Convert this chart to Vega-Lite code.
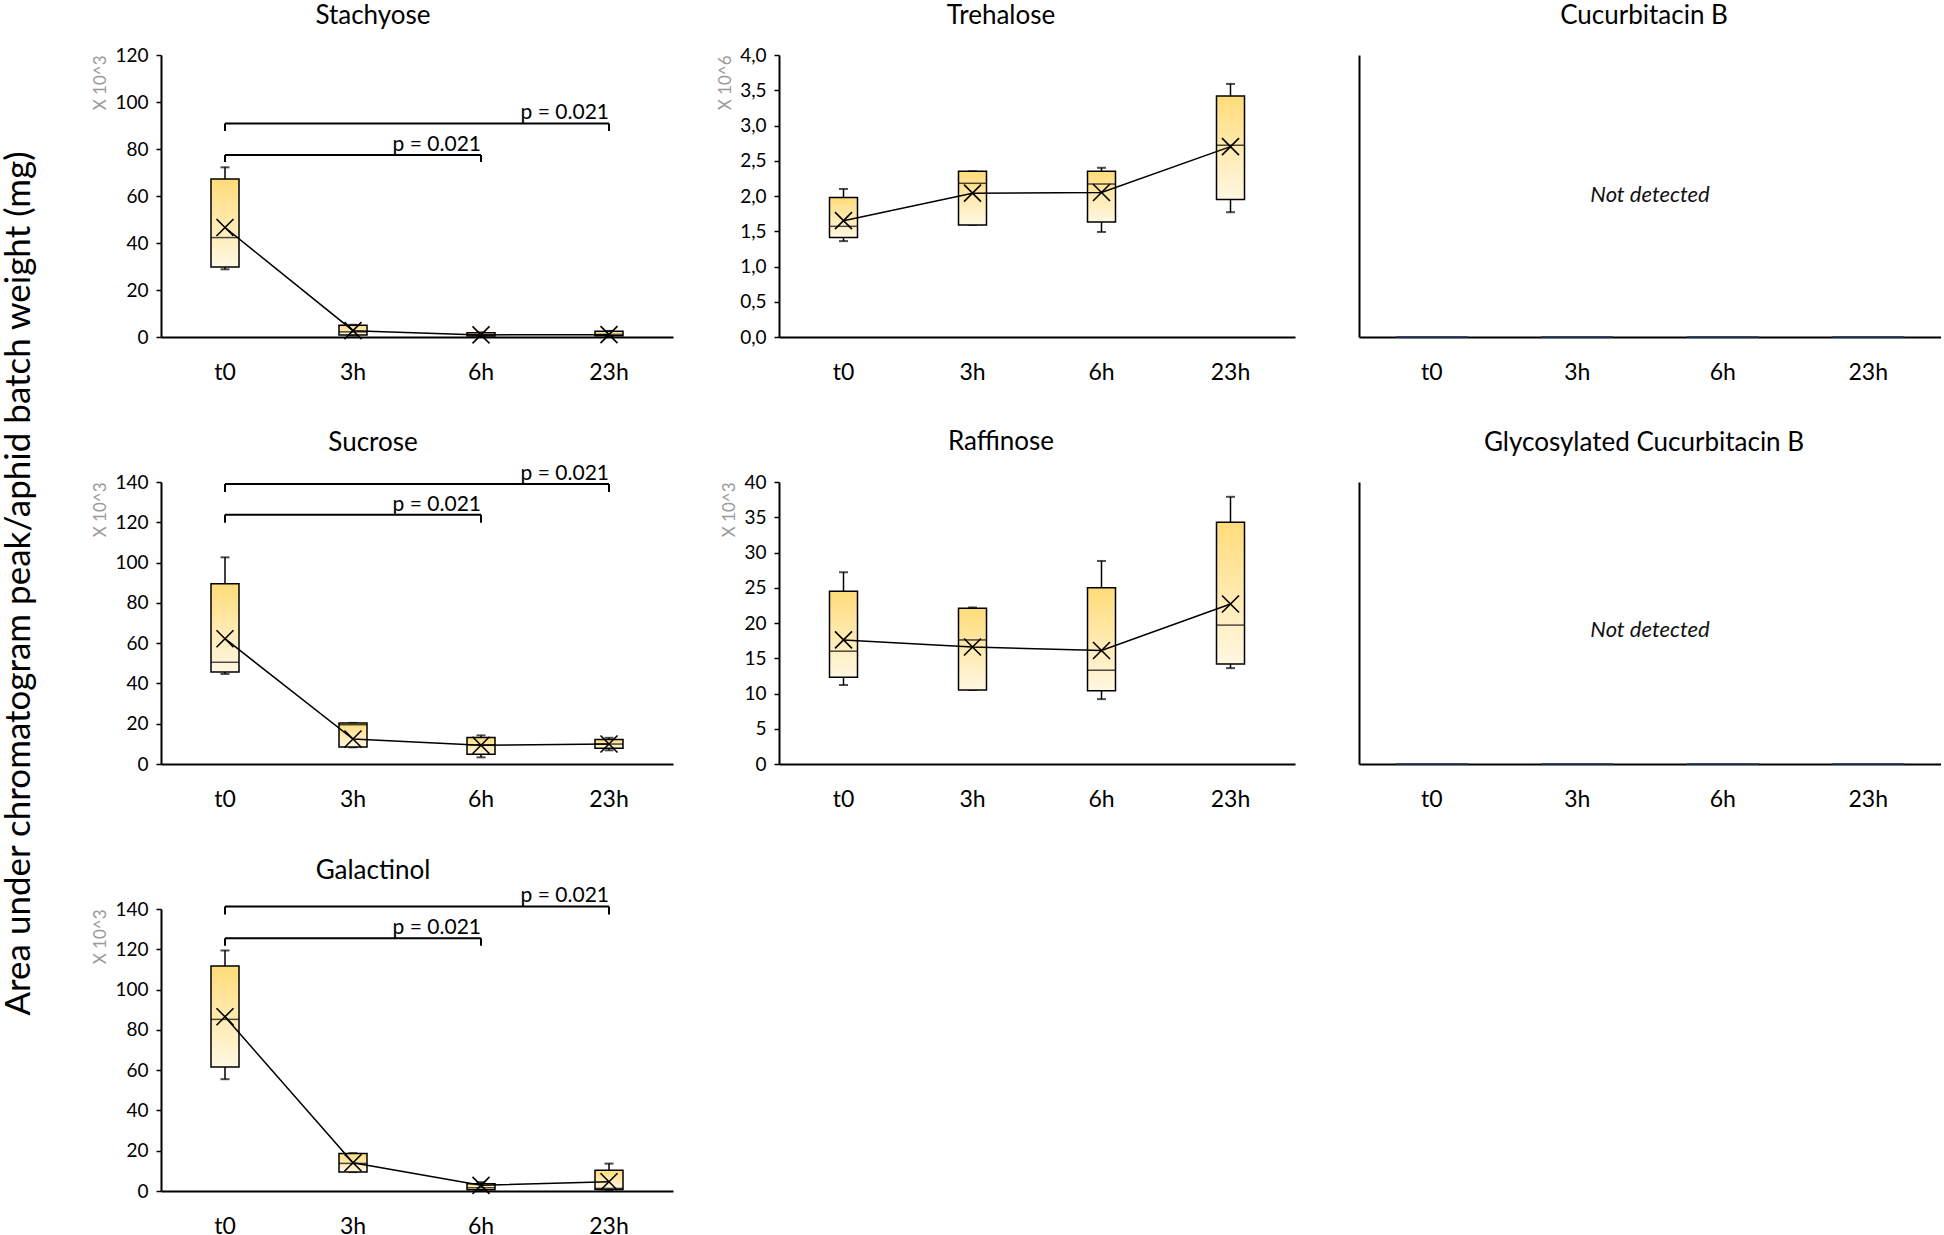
{
"$schema":"https://vega.github.io/schema/vega-lite/v6.json",
"background":"white",
"padding":{"left":1,"top":3,"right":0,"bottom":0},
"title":{"text":"Area under chromatogram peak/aphid batch weight (mg)","orient":"left","anchor":"middle","fontSize":35,"frame":"bounds","offset":38,"baseline":"middle","dx":37},
"columns":5,
"spacing":{"row":145,"column":0},
"bounds":"flush",
"align":"each",
"datasets":{
"box":[
{"panel":"Stachyose","time":"t0","hours":0,"min":28.8,"q1":29.8,"med":42.3,"q3":67.2,"max":72.2,"mean":46.6},
{"panel":"Stachyose","time":"3h","hours":3,"min":0.6,"q1":0.8,"med":2.2,"q3":5.0,"max":5.2,"mean":2.7},
{"panel":"Stachyose","time":"6h","hours":6,"min":0.2,"q1":0.4,"med":0.9,"q3":1.8,"max":2.0,"mean":0.9},
{"panel":"Stachyose","time":"23h","hours":23,"min":0.2,"q1":0.5,"med":1.1,"q3":2.4,"max":2.6,"mean":1.0},
{"panel":"Trehalose","time":"t0","hours":0,"min":1.36,"q1":1.41,"med":1.57,"q3":1.98,"max":2.10,"mean":1.65},
{"panel":"Trehalose","time":"3h","hours":3,"min":1.59,"q1":1.59,"med":2.18,"q3":2.35,"max":2.35,"mean":2.04},
{"panel":"Trehalose","time":"6h","hours":6,"min":1.49,"q1":1.63,"med":2.17,"q3":2.35,"max":2.40,"mean":2.05},
{"panel":"Trehalose","time":"23h","hours":23,"min":1.77,"q1":1.95,"med":2.72,"q3":3.42,"max":3.59,"mean":2.70},
{"panel":"Sucrose","time":"t0","hours":0,"min":44.7,"q1":45.7,"med":50.5,"q3":89.5,"max":102.6,"mean":62.2},
{"panel":"Sucrose","time":"3h","hours":3,"min":8.3,"q1":8.4,"med":19.5,"q3":20.4,"max":20.4,"mean":12.4},
{"panel":"Sucrose","time":"6h","hours":6,"min":3.3,"q1":4.8,"med":9.5,"q3":13.2,"max":14.2,"mean":9.3},
{"panel":"Sucrose","time":"23h","hours":23,"min":6.8,"q1":7.8,"med":9.9,"q3":12.2,"max":13.0,"mean":9.9},
{"panel":"Raffinose","time":"t0","hours":0,"min":11.2,"q1":12.3,"med":16.0,"q3":24.5,"max":27.2,"mean":17.6},
{"panel":"Raffinose","time":"3h","hours":3,"min":10.5,"q1":10.5,"med":17.6,"q3":22.1,"max":22.2,"mean":16.6},
{"panel":"Raffinose","time":"6h","hours":6,"min":9.2,"q1":10.4,"med":13.3,"q3":25.0,"max":28.8,"mean":16.1},
{"panel":"Raffinose","time":"23h","hours":23,"min":13.6,"q1":14.2,"med":19.7,"q3":34.3,"max":37.9,"mean":22.7},
{"panel":"Galactinol","time":"t0","hours":0,"min":55.5,"q1":61.6,"med":85.2,"q3":111.7,"max":119.4,"mean":86.5},
{"panel":"Galactinol","time":"3h","hours":3,"min":9.4,"q1":9.4,"med":13.7,"q3":18.6,"max":18.8,"mean":14.0},
{"panel":"Galactinol","time":"6h","hours":6,"min":0.5,"q1":0.6,"med":1.6,"q3":3.6,"max":4.4,"mean":2.8},
{"panel":"Galactinol","time":"23h","hours":23,"min":0.5,"q1":0.8,"med":1.3,"q3":10.3,"max":13.6,"mean":4.6}
],
"brackets":[
{"panel":"Stachyose","from":"t0","to":"6h","y":77.5,"ybot":74.5,"label":"p = 0.021"},
{"panel":"Stachyose","from":"t0","to":"23h","y":90.9,"ybot":87.7,"label":"p = 0.021"},
{"panel":"Sucrose","from":"t0","to":"6h","y":123.8,"ybot":119.8,"label":"p = 0.021"},
{"panel":"Sucrose","from":"t0","to":"23h","y":139.0,"ybot":135.0,"label":"p = 0.021"},
{"panel":"Galactinol","from":"t0","to":"6h","y":125.5,"ybot":121.7,"label":"p = 0.021"},
{"panel":"Galactinol","from":"t0","to":"23h","y":141.3,"ybot":137.3,"label":"p = 0.021"}
],
"nd":[
{"panel":"Cucurbitacin B","time":"t0","value":0},
{"panel":"Cucurbitacin B","time":"3h","value":0},
{"panel":"Cucurbitacin B","time":"6h","value":0},
{"panel":"Cucurbitacin B","time":"23h","value":0},
{"panel":"Glycosylated Cucurbitacin B","time":"t0","value":0},
{"panel":"Glycosylated Cucurbitacin B","time":"3h","value":0},
{"panel":"Glycosylated Cucurbitacin B","time":"6h","value":0},
{"panel":"Glycosylated Cucurbitacin B","time":"23h","value":0}
],
"notes":[
{"panel":"Cucurbitacin B","time":"3h","y":0.504,"label":"Not detected"},
{"panel":"Glycosylated Cucurbitacin B","time":"3h","y":0.475,"label":"Not detected"}
]
},
"concat":[
{"width":512,"height":282,"title":{"text":"Stachyose","dx":-44,"frame":"group","baseline":"middle","offset":4},
"layer":[
{"data":{"name":"box"},"transform":[{"filter":"datum.panel==='Stachyose'"}],"layer":[
{"mark":{"type":"rule","color":"#000","strokeWidth":1.5},"encoding":{"x":{"field":"time","type":"nominal","scale":{"domain":["t0","3h","6h","23h"],"paddingInner":0,"paddingOuter":0},"title":null},"y":{"field":"min","type":"quantitative","scale":{"domain":[0,120],"nice":false},"title":"X 10^3","axis":{"values":[0,20,40,60,80,100,120]}},"y2":{"field":"max"}}},
{"mark":{"type":"tick","color":"#000","size":9,"thickness":2},"encoding":{"x":{"field":"time","type":"nominal","scale":{"domain":["t0","3h","6h","23h"],"paddingInner":0,"paddingOuter":0},"title":null},"y":{"field":"max","type":"quantitative","scale":{"domain":[0,120],"nice":false},"title":"X 10^3","axis":{"values":[0,20,40,60,80,100,120]}}}},
{"mark":{"type":"tick","color":"#000","size":9,"thickness":2},"encoding":{"x":{"field":"time","type":"nominal","scale":{"domain":["t0","3h","6h","23h"],"paddingInner":0,"paddingOuter":0},"title":null},"y":{"field":"min","type":"quantitative","scale":{"domain":[0,120],"nice":false},"title":"X 10^3","axis":{"values":[0,20,40,60,80,100,120]}}}},
{"mark":{"type":"bar","size":28,"fill":{"gradient":"linear","x1":0,"y1":0,"x2":0,"y2":1,"stops":[{"offset":0,"color":"#FFDC7A"},{"offset":1,"color":"#FFF7E2"}]},"stroke":"#000","strokeWidth":1.5},"encoding":{"x":{"field":"time","type":"nominal","scale":{"domain":["t0","3h","6h","23h"],"paddingInner":0,"paddingOuter":0},"title":null},"y":{"field":"q1","type":"quantitative","scale":{"domain":[0,120],"nice":false},"title":"X 10^3","axis":{"values":[0,20,40,60,80,100,120]}},"y2":{"field":"q3"}}},
{"mark":{"type":"tick","color":"#000","size":28,"thickness":1.5},"encoding":{"x":{"field":"time","type":"nominal","scale":{"domain":["t0","3h","6h","23h"],"paddingInner":0,"paddingOuter":0},"title":null},"y":{"field":"med","type":"quantitative","scale":{"domain":[0,120],"nice":false},"title":"X 10^3","axis":{"values":[0,20,40,60,80,100,120]}}}},
{"mark":{"type":"line","color":"#000","strokeWidth":1.5},"encoding":{"x":{"field":"time","type":"nominal","scale":{"domain":["t0","3h","6h","23h"],"paddingInner":0,"paddingOuter":0},"title":null},"y":{"field":"mean","type":"quantitative","scale":{"domain":[0,120],"nice":false},"title":"X 10^3","axis":{"values":[0,20,40,60,80,100,120]}},"order":{"field":"hours","type":"quantitative"}}},
{"mark":{"type":"point","shape":"M-1,-1L1,1M-1,1L1,-1","size":289,"stroke":"#000","strokeWidth":1.6,"filled":false,"opacity":1},"encoding":{"x":{"field":"time","type":"nominal","scale":{"domain":["t0","3h","6h","23h"],"paddingInner":0,"paddingOuter":0},"title":null},"y":{"field":"mean","type":"quantitative","scale":{"domain":[0,120],"nice":false},"title":"X 10^3","axis":{"values":[0,20,40,60,80,100,120]}}}}
]},
{"data":{"name":"brackets"},"transform":[{"filter":"datum.panel==='Stachyose'"}],"layer":[
{"mark":{"type":"rule","color":"#000","strokeWidth":2},"encoding":{"x":{"field":"from","type":"nominal","scale":{"domain":["t0","3h","6h","23h"],"paddingInner":0,"paddingOuter":0},"title":null},"x2":{"field":"to"},"y":{"field":"y","type":"quantitative","scale":{"domain":[0,120],"nice":false},"title":"X 10^3","axis":{"values":[0,20,40,60,80,100,120]}}}},
{"mark":{"type":"rule","color":"#000","strokeWidth":2},"encoding":{"x":{"field":"from","type":"nominal","scale":{"domain":["t0","3h","6h","23h"],"paddingInner":0,"paddingOuter":0},"title":null},"y":{"field":"y","type":"quantitative","scale":{"domain":[0,120],"nice":false},"title":"X 10^3","axis":{"values":[0,20,40,60,80,100,120]}},"y2":{"field":"ybot"}}},
{"mark":{"type":"rule","color":"#000","strokeWidth":2},"encoding":{"x":{"field":"to","type":"nominal","scale":{"domain":["t0","3h","6h","23h"],"paddingInner":0,"paddingOuter":0},"title":null},"y":{"field":"y","type":"quantitative","scale":{"domain":[0,120],"nice":false},"title":"X 10^3","axis":{"values":[0,20,40,60,80,100,120]}},"y2":{"field":"ybot"}}},
{"mark":{"type":"text","align":"right","baseline":"alphabetic","dy":-4,"fontSize":21,"font":"Lato","color":"#000"},"encoding":{"x":{"field":"to","type":"nominal","scale":{"domain":["t0","3h","6h","23h"],"paddingInner":0,"paddingOuter":0},"title":null},"y":{"field":"y","type":"quantitative","scale":{"domain":[0,120],"nice":false},"title":"X 10^3","axis":{"values":[0,20,40,60,80,100,120]}},"text":{"field":"label"}}}
]}
]},
{"width":106,"height":282,"data":{"values":[]},"mark":"point"},
{"width":516,"height":282,"title":{"text":"Trehalose","dx":-36,"frame":"group","baseline":"middle","offset":4},
"layer":[
{"data":{"name":"box"},"transform":[{"filter":"datum.panel==='Trehalose'"}],"layer":[
{"mark":{"type":"rule","color":"#000","strokeWidth":1.5},"encoding":{"x":{"field":"time","type":"nominal","scale":{"domain":["t0","3h","6h","23h"],"paddingInner":0,"paddingOuter":0},"title":null},"y":{"field":"min","type":"quantitative","scale":{"domain":[0,4],"nice":false},"title":"X 10^6","axis":{"values":[0,0.5,1,1.5,2,2.5,3,3.5,4],"labelExpr":"replace(format(datum.value,'.1f'),'.',',')"}},"y2":{"field":"max"}}},
{"mark":{"type":"tick","color":"#000","size":9,"thickness":2},"encoding":{"x":{"field":"time","type":"nominal","scale":{"domain":["t0","3h","6h","23h"],"paddingInner":0,"paddingOuter":0},"title":null},"y":{"field":"max","type":"quantitative","scale":{"domain":[0,4],"nice":false},"title":"X 10^6","axis":{"values":[0,0.5,1,1.5,2,2.5,3,3.5,4],"labelExpr":"replace(format(datum.value,'.1f'),'.',',')"}}}},
{"mark":{"type":"tick","color":"#000","size":9,"thickness":2},"encoding":{"x":{"field":"time","type":"nominal","scale":{"domain":["t0","3h","6h","23h"],"paddingInner":0,"paddingOuter":0},"title":null},"y":{"field":"min","type":"quantitative","scale":{"domain":[0,4],"nice":false},"title":"X 10^6","axis":{"values":[0,0.5,1,1.5,2,2.5,3,3.5,4],"labelExpr":"replace(format(datum.value,'.1f'),'.',',')"}}}},
{"mark":{"type":"bar","size":28,"fill":{"gradient":"linear","x1":0,"y1":0,"x2":0,"y2":1,"stops":[{"offset":0,"color":"#FFDC7A"},{"offset":1,"color":"#FFF7E2"}]},"stroke":"#000","strokeWidth":1.5},"encoding":{"x":{"field":"time","type":"nominal","scale":{"domain":["t0","3h","6h","23h"],"paddingInner":0,"paddingOuter":0},"title":null},"y":{"field":"q1","type":"quantitative","scale":{"domain":[0,4],"nice":false},"title":"X 10^6","axis":{"values":[0,0.5,1,1.5,2,2.5,3,3.5,4],"labelExpr":"replace(format(datum.value,'.1f'),'.',',')"}},"y2":{"field":"q3"}}},
{"mark":{"type":"tick","color":"#000","size":28,"thickness":1.5},"encoding":{"x":{"field":"time","type":"nominal","scale":{"domain":["t0","3h","6h","23h"],"paddingInner":0,"paddingOuter":0},"title":null},"y":{"field":"med","type":"quantitative","scale":{"domain":[0,4],"nice":false},"title":"X 10^6","axis":{"values":[0,0.5,1,1.5,2,2.5,3,3.5,4],"labelExpr":"replace(format(datum.value,'.1f'),'.',',')"}}}},
{"mark":{"type":"line","color":"#000","strokeWidth":1.5},"encoding":{"x":{"field":"time","type":"nominal","scale":{"domain":["t0","3h","6h","23h"],"paddingInner":0,"paddingOuter":0},"title":null},"y":{"field":"mean","type":"quantitative","scale":{"domain":[0,4],"nice":false},"title":"X 10^6","axis":{"values":[0,0.5,1,1.5,2,2.5,3,3.5,4],"labelExpr":"replace(format(datum.value,'.1f'),'.',',')"}},"order":{"field":"hours","type":"quantitative"}}},
{"mark":{"type":"point","shape":"M-1,-1L1,1M-1,1L1,-1","size":289,"stroke":"#000","strokeWidth":1.6,"filled":false,"opacity":1},"encoding":{"x":{"field":"time","type":"nominal","scale":{"domain":["t0","3h","6h","23h"],"paddingInner":0,"paddingOuter":0},"title":null},"y":{"field":"mean","type":"quantitative","scale":{"domain":[0,4],"nice":false},"title":"X 10^6","axis":{"values":[0,0.5,1,1.5,2,2.5,3,3.5,4],"labelExpr":"replace(format(datum.value,'.1f'),'.',',')"}}}}
]}
]},
{"width":64,"height":282,"data":{"values":[]},"mark":"point"},
{"width":582,"height":282,"title":{"text":"Cucurbitacin B","dx":-6,"frame":"group","baseline":"middle","offset":13},
"layer":[
{"data":{"name":"nd"},"transform":[{"filter":"datum.panel==='Cucurbitacin B'"}],"mark":{"type":"bar","size":72,"stroke":"#24375C","strokeWidth":1.5,"fill":"#24375C"},"encoding":{"x":{"field":"time","type":"nominal","scale":{"domain":["t0","3h","6h","23h"],"paddingInner":0,"paddingOuter":0},"title":null},"y":{"field":"value","type":"quantitative","scale":{"domain":[0,1],"nice":false},"title":null,"axis":{"labels":false,"ticks":false}}}},
{"data":{"name":"notes"},"transform":[{"filter":"datum.panel==='Cucurbitacin B'"}],"mark":{"type":"text","font":"Lato","fontStyle":"italic","fontSize":22,"color":"#111"},"encoding":{"x":{"field":"time","type":"nominal","bandPosition":1,"scale":{"domain":["t0","3h","6h","23h"],"paddingInner":0,"paddingOuter":0},"title":null},"y":{"field":"y","type":"quantitative","scale":{"domain":[0,1],"nice":false},"title":null,"axis":{"labels":false,"ticks":false}},"text":{"field":"label"}}}
]},
{"width":512,"height":282,"title":{"text":"Sucrose","dx":-44,"frame":"group","baseline":"middle","offset":-6},
"layer":[
{"data":{"name":"box"},"transform":[{"filter":"datum.panel==='Sucrose'"}],"layer":[
{"mark":{"type":"rule","color":"#000","strokeWidth":1.5},"encoding":{"x":{"field":"time","type":"nominal","scale":{"domain":["t0","3h","6h","23h"],"paddingInner":0,"paddingOuter":0},"title":null},"y":{"field":"min","type":"quantitative","scale":{"domain":[0,140],"nice":false},"title":"X 10^3","axis":{"values":[0,20,40,60,80,100,120,140]}},"y2":{"field":"max"}}},
{"mark":{"type":"tick","color":"#000","size":9,"thickness":2},"encoding":{"x":{"field":"time","type":"nominal","scale":{"domain":["t0","3h","6h","23h"],"paddingInner":0,"paddingOuter":0},"title":null},"y":{"field":"max","type":"quantitative","scale":{"domain":[0,140],"nice":false},"title":"X 10^3","axis":{"values":[0,20,40,60,80,100,120,140]}}}},
{"mark":{"type":"tick","color":"#000","size":9,"thickness":2},"encoding":{"x":{"field":"time","type":"nominal","scale":{"domain":["t0","3h","6h","23h"],"paddingInner":0,"paddingOuter":0},"title":null},"y":{"field":"min","type":"quantitative","scale":{"domain":[0,140],"nice":false},"title":"X 10^3","axis":{"values":[0,20,40,60,80,100,120,140]}}}},
{"mark":{"type":"bar","size":28,"fill":{"gradient":"linear","x1":0,"y1":0,"x2":0,"y2":1,"stops":[{"offset":0,"color":"#FFDC7A"},{"offset":1,"color":"#FFF7E2"}]},"stroke":"#000","strokeWidth":1.5},"encoding":{"x":{"field":"time","type":"nominal","scale":{"domain":["t0","3h","6h","23h"],"paddingInner":0,"paddingOuter":0},"title":null},"y":{"field":"q1","type":"quantitative","scale":{"domain":[0,140],"nice":false},"title":"X 10^3","axis":{"values":[0,20,40,60,80,100,120,140]}},"y2":{"field":"q3"}}},
{"mark":{"type":"tick","color":"#000","size":28,"thickness":1.5},"encoding":{"x":{"field":"time","type":"nominal","scale":{"domain":["t0","3h","6h","23h"],"paddingInner":0,"paddingOuter":0},"title":null},"y":{"field":"med","type":"quantitative","scale":{"domain":[0,140],"nice":false},"title":"X 10^3","axis":{"values":[0,20,40,60,80,100,120,140]}}}},
{"mark":{"type":"line","color":"#000","strokeWidth":1.5},"encoding":{"x":{"field":"time","type":"nominal","scale":{"domain":["t0","3h","6h","23h"],"paddingInner":0,"paddingOuter":0},"title":null},"y":{"field":"mean","type":"quantitative","scale":{"domain":[0,140],"nice":false},"title":"X 10^3","axis":{"values":[0,20,40,60,80,100,120,140]}},"order":{"field":"hours","type":"quantitative"}}},
{"mark":{"type":"point","shape":"M-1,-1L1,1M-1,1L1,-1","size":289,"stroke":"#000","strokeWidth":1.6,"filled":false,"opacity":1},"encoding":{"x":{"field":"time","type":"nominal","scale":{"domain":["t0","3h","6h","23h"],"paddingInner":0,"paddingOuter":0},"title":null},"y":{"field":"mean","type":"quantitative","scale":{"domain":[0,140],"nice":false},"title":"X 10^3","axis":{"values":[0,20,40,60,80,100,120,140]}}}}
]},
{"data":{"name":"brackets"},"transform":[{"filter":"datum.panel==='Sucrose'"}],"layer":[
{"mark":{"type":"rule","color":"#000","strokeWidth":2},"encoding":{"x":{"field":"from","type":"nominal","scale":{"domain":["t0","3h","6h","23h"],"paddingInner":0,"paddingOuter":0},"title":null},"x2":{"field":"to"},"y":{"field":"y","type":"quantitative","scale":{"domain":[0,140],"nice":false},"title":"X 10^3","axis":{"values":[0,20,40,60,80,100,120,140]}}}},
{"mark":{"type":"rule","color":"#000","strokeWidth":2},"encoding":{"x":{"field":"from","type":"nominal","scale":{"domain":["t0","3h","6h","23h"],"paddingInner":0,"paddingOuter":0},"title":null},"y":{"field":"y","type":"quantitative","scale":{"domain":[0,140],"nice":false},"title":"X 10^3","axis":{"values":[0,20,40,60,80,100,120,140]}},"y2":{"field":"ybot"}}},
{"mark":{"type":"rule","color":"#000","strokeWidth":2},"encoding":{"x":{"field":"to","type":"nominal","scale":{"domain":["t0","3h","6h","23h"],"paddingInner":0,"paddingOuter":0},"title":null},"y":{"field":"y","type":"quantitative","scale":{"domain":[0,140],"nice":false},"title":"X 10^3","axis":{"values":[0,20,40,60,80,100,120,140]}},"y2":{"field":"ybot"}}},
{"mark":{"type":"text","align":"right","baseline":"alphabetic","dy":-4,"fontSize":21,"font":"Lato","color":"#000"},"encoding":{"x":{"field":"to","type":"nominal","scale":{"domain":["t0","3h","6h","23h"],"paddingInner":0,"paddingOuter":0},"title":null},"y":{"field":"y","type":"quantitative","scale":{"domain":[0,140],"nice":false},"title":"X 10^3","axis":{"values":[0,20,40,60,80,100,120,140]}},"text":{"field":"label"}}}
]}
]},
{"width":106,"height":282,"data":{"values":[]},"mark":"point"},
{"width":516,"height":282,"title":{"text":"Raffinose","dx":-36,"frame":"group","baseline":"middle","offset":5},
"layer":[
{"data":{"name":"box"},"transform":[{"filter":"datum.panel==='Raffinose'"}],"layer":[
{"mark":{"type":"rule","color":"#000","strokeWidth":1.5},"encoding":{"x":{"field":"time","type":"nominal","scale":{"domain":["t0","3h","6h","23h"],"paddingInner":0,"paddingOuter":0},"title":null},"y":{"field":"min","type":"quantitative","scale":{"domain":[0,40],"nice":false},"title":"X 10^3","axis":{"values":[0,5,10,15,20,25,30,35,40]}},"y2":{"field":"max"}}},
{"mark":{"type":"tick","color":"#000","size":9,"thickness":2},"encoding":{"x":{"field":"time","type":"nominal","scale":{"domain":["t0","3h","6h","23h"],"paddingInner":0,"paddingOuter":0},"title":null},"y":{"field":"max","type":"quantitative","scale":{"domain":[0,40],"nice":false},"title":"X 10^3","axis":{"values":[0,5,10,15,20,25,30,35,40]}}}},
{"mark":{"type":"tick","color":"#000","size":9,"thickness":2},"encoding":{"x":{"field":"time","type":"nominal","scale":{"domain":["t0","3h","6h","23h"],"paddingInner":0,"paddingOuter":0},"title":null},"y":{"field":"min","type":"quantitative","scale":{"domain":[0,40],"nice":false},"title":"X 10^3","axis":{"values":[0,5,10,15,20,25,30,35,40]}}}},
{"mark":{"type":"bar","size":28,"fill":{"gradient":"linear","x1":0,"y1":0,"x2":0,"y2":1,"stops":[{"offset":0,"color":"#FFDC7A"},{"offset":1,"color":"#FFF7E2"}]},"stroke":"#000","strokeWidth":1.5},"encoding":{"x":{"field":"time","type":"nominal","scale":{"domain":["t0","3h","6h","23h"],"paddingInner":0,"paddingOuter":0},"title":null},"y":{"field":"q1","type":"quantitative","scale":{"domain":[0,40],"nice":false},"title":"X 10^3","axis":{"values":[0,5,10,15,20,25,30,35,40]}},"y2":{"field":"q3"}}},
{"mark":{"type":"tick","color":"#000","size":28,"thickness":1.5},"encoding":{"x":{"field":"time","type":"nominal","scale":{"domain":["t0","3h","6h","23h"],"paddingInner":0,"paddingOuter":0},"title":null},"y":{"field":"med","type":"quantitative","scale":{"domain":[0,40],"nice":false},"title":"X 10^3","axis":{"values":[0,5,10,15,20,25,30,35,40]}}}},
{"mark":{"type":"line","color":"#000","strokeWidth":1.5},"encoding":{"x":{"field":"time","type":"nominal","scale":{"domain":["t0","3h","6h","23h"],"paddingInner":0,"paddingOuter":0},"title":null},"y":{"field":"mean","type":"quantitative","scale":{"domain":[0,40],"nice":false},"title":"X 10^3","axis":{"values":[0,5,10,15,20,25,30,35,40]}},"order":{"field":"hours","type":"quantitative"}}},
{"mark":{"type":"point","shape":"M-1,-1L1,1M-1,1L1,-1","size":289,"stroke":"#000","strokeWidth":1.6,"filled":false,"opacity":1},"encoding":{"x":{"field":"time","type":"nominal","scale":{"domain":["t0","3h","6h","23h"],"paddingInner":0,"paddingOuter":0},"title":null},"y":{"field":"mean","type":"quantitative","scale":{"domain":[0,40],"nice":false},"title":"X 10^3","axis":{"values":[0,5,10,15,20,25,30,35,40]}}}}
]}
]},
{"width":64,"height":282,"data":{"values":[]},"mark":"point"},
{"width":582,"height":282,"title":{"text":"Glycosylated Cucurbitacin B","dx":-6,"frame":"group","baseline":"middle","offset":13},
"layer":[
{"data":{"name":"nd"},"transform":[{"filter":"datum.panel==='Glycosylated Cucurbitacin B'"}],"mark":{"type":"bar","size":72,"stroke":"#24375C","strokeWidth":1.5,"fill":"#24375C"},"encoding":{"x":{"field":"time","type":"nominal","scale":{"domain":["t0","3h","6h","23h"],"paddingInner":0,"paddingOuter":0},"title":null},"y":{"field":"value","type":"quantitative","scale":{"domain":[0,1],"nice":false},"title":null,"axis":{"labels":false,"ticks":false}}}},
{"data":{"name":"notes"},"transform":[{"filter":"datum.panel==='Glycosylated Cucurbitacin B'"}],"mark":{"type":"text","font":"Lato","fontStyle":"italic","fontSize":22,"color":"#111"},"encoding":{"x":{"field":"time","type":"nominal","bandPosition":1,"scale":{"domain":["t0","3h","6h","23h"],"paddingInner":0,"paddingOuter":0},"title":null},"y":{"field":"y","type":"quantitative","scale":{"domain":[0,1],"nice":false},"title":null,"axis":{"labels":false,"ticks":false}},"text":{"field":"label"}}}
]},
{"width":512,"height":282,"title":{"text":"Galactinol","dx":-44,"frame":"group","baseline":"middle","offset":-11.5},
"layer":[
{"data":{"name":"box"},"transform":[{"filter":"datum.panel==='Galactinol'"}],"layer":[
{"mark":{"type":"rule","color":"#000","strokeWidth":1.5},"encoding":{"x":{"field":"time","type":"nominal","scale":{"domain":["t0","3h","6h","23h"],"paddingInner":0,"paddingOuter":0},"title":null},"y":{"field":"min","type":"quantitative","scale":{"domain":[0,140],"nice":false},"title":"X 10^3","axis":{"values":[0,20,40,60,80,100,120,140]}},"y2":{"field":"max"}}},
{"mark":{"type":"tick","color":"#000","size":9,"thickness":2},"encoding":{"x":{"field":"time","type":"nominal","scale":{"domain":["t0","3h","6h","23h"],"paddingInner":0,"paddingOuter":0},"title":null},"y":{"field":"max","type":"quantitative","scale":{"domain":[0,140],"nice":false},"title":"X 10^3","axis":{"values":[0,20,40,60,80,100,120,140]}}}},
{"mark":{"type":"tick","color":"#000","size":9,"thickness":2},"encoding":{"x":{"field":"time","type":"nominal","scale":{"domain":["t0","3h","6h","23h"],"paddingInner":0,"paddingOuter":0},"title":null},"y":{"field":"min","type":"quantitative","scale":{"domain":[0,140],"nice":false},"title":"X 10^3","axis":{"values":[0,20,40,60,80,100,120,140]}}}},
{"mark":{"type":"bar","size":28,"fill":{"gradient":"linear","x1":0,"y1":0,"x2":0,"y2":1,"stops":[{"offset":0,"color":"#FFDC7A"},{"offset":1,"color":"#FFF7E2"}]},"stroke":"#000","strokeWidth":1.5},"encoding":{"x":{"field":"time","type":"nominal","scale":{"domain":["t0","3h","6h","23h"],"paddingInner":0,"paddingOuter":0},"title":null},"y":{"field":"q1","type":"quantitative","scale":{"domain":[0,140],"nice":false},"title":"X 10^3","axis":{"values":[0,20,40,60,80,100,120,140]}},"y2":{"field":"q3"}}},
{"mark":{"type":"tick","color":"#000","size":28,"thickness":1.5},"encoding":{"x":{"field":"time","type":"nominal","scale":{"domain":["t0","3h","6h","23h"],"paddingInner":0,"paddingOuter":0},"title":null},"y":{"field":"med","type":"quantitative","scale":{"domain":[0,140],"nice":false},"title":"X 10^3","axis":{"values":[0,20,40,60,80,100,120,140]}}}},
{"mark":{"type":"line","color":"#000","strokeWidth":1.5},"encoding":{"x":{"field":"time","type":"nominal","scale":{"domain":["t0","3h","6h","23h"],"paddingInner":0,"paddingOuter":0},"title":null},"y":{"field":"mean","type":"quantitative","scale":{"domain":[0,140],"nice":false},"title":"X 10^3","axis":{"values":[0,20,40,60,80,100,120,140]}},"order":{"field":"hours","type":"quantitative"}}},
{"mark":{"type":"point","shape":"M-1,-1L1,1M-1,1L1,-1","size":289,"stroke":"#000","strokeWidth":1.6,"filled":false,"opacity":1},"encoding":{"x":{"field":"time","type":"nominal","scale":{"domain":["t0","3h","6h","23h"],"paddingInner":0,"paddingOuter":0},"title":null},"y":{"field":"mean","type":"quantitative","scale":{"domain":[0,140],"nice":false},"title":"X 10^3","axis":{"values":[0,20,40,60,80,100,120,140]}}}}
]},
{"data":{"name":"brackets"},"transform":[{"filter":"datum.panel==='Galactinol'"}],"layer":[
{"mark":{"type":"rule","color":"#000","strokeWidth":2},"encoding":{"x":{"field":"from","type":"nominal","scale":{"domain":["t0","3h","6h","23h"],"paddingInner":0,"paddingOuter":0},"title":null},"x2":{"field":"to"},"y":{"field":"y","type":"quantitative","scale":{"domain":[0,140],"nice":false},"title":"X 10^3","axis":{"values":[0,20,40,60,80,100,120,140]}}}},
{"mark":{"type":"rule","color":"#000","strokeWidth":2},"encoding":{"x":{"field":"from","type":"nominal","scale":{"domain":["t0","3h","6h","23h"],"paddingInner":0,"paddingOuter":0},"title":null},"y":{"field":"y","type":"quantitative","scale":{"domain":[0,140],"nice":false},"title":"X 10^3","axis":{"values":[0,20,40,60,80,100,120,140]}},"y2":{"field":"ybot"}}},
{"mark":{"type":"rule","color":"#000","strokeWidth":2},"encoding":{"x":{"field":"to","type":"nominal","scale":{"domain":["t0","3h","6h","23h"],"paddingInner":0,"paddingOuter":0},"title":null},"y":{"field":"y","type":"quantitative","scale":{"domain":[0,140],"nice":false},"title":"X 10^3","axis":{"values":[0,20,40,60,80,100,120,140]}},"y2":{"field":"ybot"}}},
{"mark":{"type":"text","align":"right","baseline":"alphabetic","dy":-4,"fontSize":21,"font":"Lato","color":"#000"},"encoding":{"x":{"field":"to","type":"nominal","scale":{"domain":["t0","3h","6h","23h"],"paddingInner":0,"paddingOuter":0},"title":null},"y":{"field":"y","type":"quantitative","scale":{"domain":[0,140],"nice":false},"title":"X 10^3","axis":{"values":[0,20,40,60,80,100,120,140]}},"text":{"field":"label"}}}
]}
]}
],
"config":{
"font":"Lato",
"view":{"stroke":null},
"title":{"font":"Lato","fontSize":26,"fontWeight":"normal","color":"#000","anchor":"middle"},
"axis":{"grid":false,"domainColor":"#000","domainWidth":2,"tickColor":"#000","labelColor":"#000","labelFont":"Lato","titleFont":"Lato"},
"axisX":{"ticks":false,"tickSize":0,"labelFontSize":23,"labelPadding":24,"labelAngle":0},
"axisY":{"tickSize":5,"tickWidth":1.5,"labelFontSize":19,"labelPadding":8,"titleColor":"#9a9a9a","titleFontSize":17,"titleFontWeight":"normal","titleAnchor":"end","titlePadding":5}
}
}
